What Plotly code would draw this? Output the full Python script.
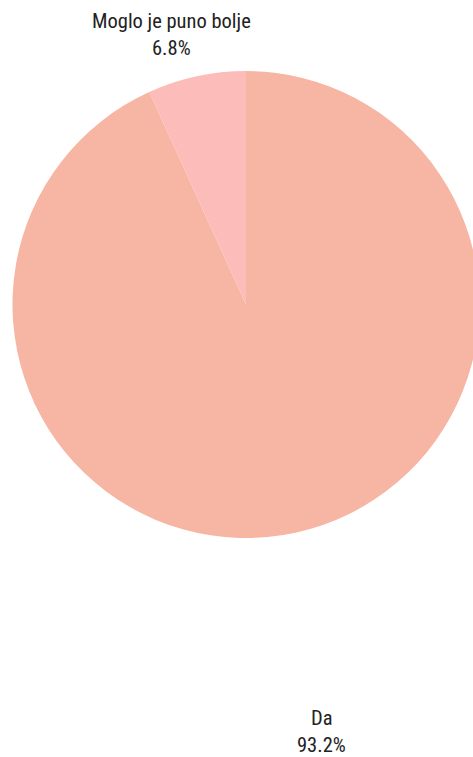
import plotly.graph_objects as go

# ── data ────────────────────────────────────────────────────
labels  = ["Da", "Moglo je puno bolje"]
values  = [93.2, 6.8]
colors  = ["#F7B5A3", "#FCBCBA"]

# label placement (paper coords) — labels sit well away from the pie
label_pos = {
    "Da":                  (0.662, -0.386, -0.444),
    "Moglo je puno bolje": (0.340, 1.107, 1.049),
}

W, H = 480, 757
FONT = "Roboto Condensed, Liberation Sans Narrow, Roboto, sans-serif"

fig = go.Figure(go.Pie(
    labels=labels,
    values=values,
    sort=False,
    direction="clockwise",
    rotation=0,
    marker=dict(colors=colors, line=dict(width=0)),
    textinfo="none",
    hoverinfo="label+percent",
    showlegend=False,
))

total = sum(values)
for lab, val in zip(labels, values):
    x, y_name, y_pct = label_pos[lab]
    for txt, yy in ((lab, y_name), (f"{val / total * 100:.1f}%", y_pct)):
        fig.add_annotation(
            x=x, y=yy, xref="paper", yref="paper",
            text=txt, showarrow=False,
            font=dict(family=FONT, size=20.5, color="#222222"),
            xanchor="center", yanchor="middle",
        )

fig.update_layout(
    width=W, height=H,
    autosize=False,
    margin=dict(l=12, r=0, t=71, b=219),
    paper_bgcolor="white",
    plot_bgcolor="white",
)

fig.write_html(
    "out.html",
    config={"displayModeBar": False},
    post_script="document.body.style.margin='0';document.body.style.overflow='hidden';",
)
